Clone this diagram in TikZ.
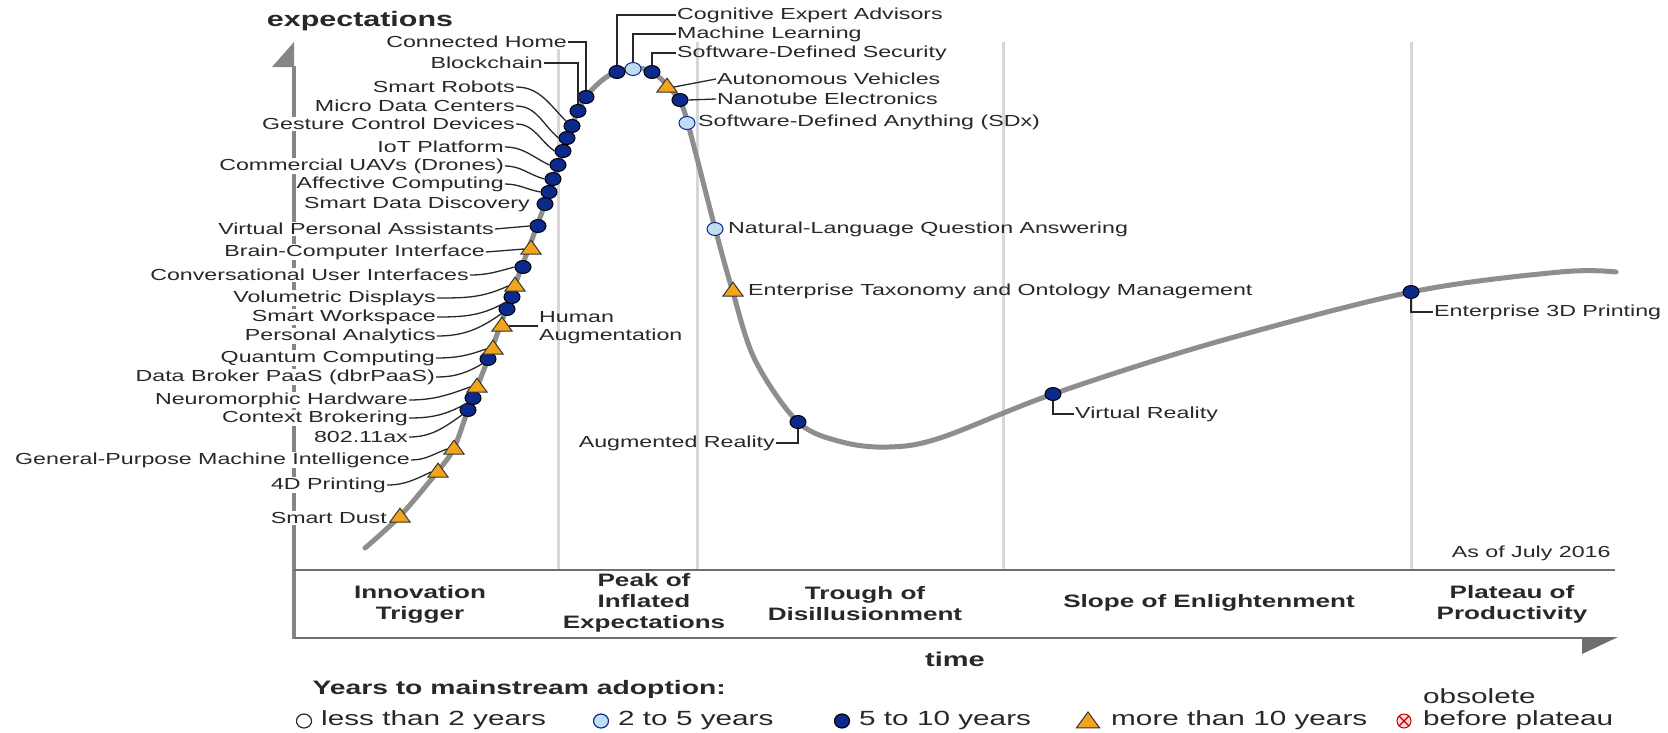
\documentclass[tikz,border=0pt]{standalone}
\usepackage{fontspec}
\setmainfont{Liberation Sans}[FakeStretch=1.45]
\usepackage{tikz}
\usetikzlibrary{shapes.geometric}

\definecolor{ink}{HTML}{282828}
\definecolor{dotblue}{HTML}{0B2A8C}
\definecolor{lightdot}{HTML}{BFDDF3}
\definecolor{tri}{HTML}{F2A51A}
\definecolor{curvegray}{HTML}{8E8E8E}
\definecolor{axisgray}{HTML}{858585}
\definecolor{boxgray}{HTML}{6E6E6E}
\definecolor{phasegray}{HTML}{D7D7D7}

\begin{document}
\begin{tikzpicture}[x = 1pt, y = -1pt,
        every node/.style = {text = ink},
        left label/.style = {anchor = east, fill = white, inner sep = 1pt, font = \fontsize{16}{18}\selectfont},
        right label/.style = {anchor = west, inner sep = 1pt, font = \fontsize{16}{18}\selectfont},
        phase label/.style = {align = center, font = \fontsize{18}{21}\selectfont\bfseries},
        key text/.style = {anchor = west, inner sep = 1pt, font = \fontsize{20.5}{23}\selectfont},
        leader/.style = {draw = ink, line width = 1.3pt},
        fiveten/.style = {ellipse, draw = black, line width = 1pt, fill = dotblue, minimum width = 16, minimum height = 13, inner sep = 0pt},
        twofive/.style = {fiveten, fill = lightdot, draw = dotblue},
        overten/.style = {isosceles triangle, isosceles triangle apex angle = 72, shape border rotate = 90, draw = black!80, line width = 1pt, fill = tri, minimum size = 14, inner sep = 0pt},
        key/.style = {ellipse, draw = ink, line width = 1.2pt, minimum width = 15, minimum height = 14, inner sep = 0pt}]
        \useasboundingbox (0,0) rectangle (1668,732);

        \foreach \x in {558, 697, 1003, 1411}
            \draw [phasegray, line width = 3pt] (\x,42) -- (\x,570);

        \draw [axisgray, line width = 3.5pt] (294,66) -- (294,639);
        \fill [axisgray] (294,42) -- (272,67) -- (294,67) -- cycle;
        \draw [boxgray, line width = 2.5pt] (294,570) -- (1615,570);
        \draw [boxgray, line width = 2.5pt] (294,638) -- (1590,638);
        \fill [boxgray] (1582,637) -- (1618,637) -- (1582,654) -- cycle;

        \node [font = \fontsize{21}{24}\selectfont\bfseries] (ax-exp) at (360,21) {expectations};
        \node [font = \fontsize{20}{24}\selectfont\bfseries] (ax-time) at (955,659) {time};
        \node [anchor = east, font = \fontsize{16}{18}\selectfont] (asof) at (1614,553) {As of July 2016};

        \node [left label] (l-home) at (568,42) {Connected Home};
        \node [left label] (l-block) at (544,63) {Blockchain};
        \node [left label] (l-robots) at (516,87) {Smart Robots};
        \node [left label] (l-microdc) at (516,106) {Micro Data Centers};
        \node [left label] (l-gesture) at (516,124) {Gesture Control Devices};
        \node [left label] (l-iot) at (505,147) {IoT Platform};
        \node [left label] (l-uav) at (505,166) {Commercial UAVs (Drones)};
        \node [left label] (l-affect) at (505,184) {Affective Computing};
        \node [left label] (l-sdd) at (531,204) {Smart Data Discovery};
        \node [left label] (l-vpa) at (495,229) {Virtual Personal Assistants};
        \node [left label] (l-bci) at (486,252) {Brain-Computer Interface};
        \node [left label] (l-conv) at (470,275) {Conversational User Interfaces};
        \node [left label] (l-volu) at (437,298) {Volumetric Displays};
        \node [left label] (l-work) at (437,317) {Smart Workspace};
        \node [left label] (l-pers) at (437,336) {Personal Analytics};
        \node [left label] (l-quant) at (436,358) {Quantum Computing};
        \node [left label] (l-dbr) at (436,377) {Data Broker PaaS (dbrPaaS)};
        \node [left label] (l-neuro) at (409,400) {Neuromorphic Hardware};
        \node [left label] (l-context) at (409,418) {Context Brokering};
        \node [left label] (l-wifi) at (409,437) {802.11ax};
        \node [left label] (l-gpmi) at (411,460) {General-Purpose Machine Intelligence};
        \node [left label] (l-print) at (387,485) {4D Printing};
        \node [left label] (l-dust) at (388,518) {Smart Dust};

        \node [right label] (l-cea) at (676,15) {Cognitive Expert Advisors};
        \node [right label] (l-ml) at (676,34) {Machine Learning};
        \node [right label] (l-sds) at (676,53) {Software-Defined Security};
        \node [right label] (l-auto) at (716,79) {Autonomous Vehicles};
        \node [right label] (l-nano) at (716,99) {Nanotube Electronics};
        \node [right label] (l-sdx) at (697,122) {Software-Defined Anything (SDx)};
        \node [right label] (l-nlqa) at (727,229) {Natural-Language Question Answering};
        \node [right label] (l-etom) at (747,291) {Enterprise Taxonomy and Ontology Management};
        \node [right label, align = left] (l-human) at (538,328) {Human\\Augmentation};
        \node [left label, fill = none] (l-ar) at (776,443) {Augmented Reality};
        \node [right label] (l-vr) at (1074,414) {Virtual Reality};
        \node [right label] (l-e3d) at (1433,312) {Enterprise 3D Printing};

        \draw [curvegray, line width = 5pt, line cap = round] plot [smooth, tension = 0.55] coordinates {(365,548) (400,516) (438,471) (454,448) (468,410) (488,359) (515,285) (545,204) (572,126) (586,97) (608,76) (633,68) (652,72) (668,86) (680,102) (688,124) (715,228) (732,289) (755,360) (798,422) (842,442) (889,447) (940,438) (1053,394) (1213,343) (1411,292) (1560,272) (1616,272)};

        \node [overten] (m-dust) at (400,517) {};
        \node [overten] (m-print) at (438,472) {};
        \node [overten] (m-gpmi) at (454,449) {};
        \node [fiveten] (m-wifi) at (468,410) {};
        \node [fiveten] (m-context) at (473,398) {};
        \node [overten] (m-neuro) at (477,387) {};
        \node [fiveten] (m-dbr) at (488,359) {};
        \node [overten] (m-quant) at (493,349) {};
        \node [overten] (m-human) at (502,326) {};
        \node [fiveten] (m-pers) at (507,309) {};
        \node [fiveten] (m-work) at (512,297) {};
        \node [overten] (m-volu) at (515,286) {};
        \node [fiveten] (m-conv) at (523,267) {};
        \node [overten] (m-bci) at (531,249) {};
        \node [fiveten] (m-vpa) at (538,226) {};
        \node [fiveten] (m-sdd) at (545,204) {};
        \node [fiveten] (m-affect) at (549,192) {};
        \node [fiveten] (m-uav) at (553,179) {};
        \node [fiveten] (m-iot) at (558,165) {};
        \node [fiveten] (m-gesture) at (563,151) {};
        \node [fiveten] (m-microdc) at (567,138) {};
        \node [fiveten] (m-robots) at (572,126) {};
        \node [fiveten] (m-block) at (578,111) {};
        \node [fiveten] (m-home) at (586,97) {};
        \node [fiveten] (m-cea) at (617,72) {};
        \node [twofive] (m-ml) at (633,69) {};
        \node [fiveten] (m-sds) at (652,72) {};
        \node [overten] (m-auto) at (667,87) {};
        \node [fiveten] (m-nano) at (680,100) {};
        \node [twofive] (m-sdx) at (687,123) {};
        \node [twofive] (m-nlqa) at (715,229) {};
        \node [overten] (m-etom) at (733,291) {};
        \node [fiveten] (m-ar) at (798,422) {};
        \node [fiveten] (m-vr) at (1053,394) {};
        \node [fiveten] (m-e3d) at (1411,292) {};

        \draw [leader] (l-home.east) -| (m-home.north);
        \draw [leader] (l-block.east) -| (m-block.north);
        \draw [leader] (l-robots.east) to [out = 0, in = 135] (m-robots.north west);
        \draw [leader] (l-microdc.east) to [out = 0, in = 140] (m-microdc.west);
        \draw [leader] (l-gesture.east) to [out = 0, in = 145] (m-gesture.west);
        \draw [leader] (l-iot.east) to [out = 0, in = 155] (m-iot.west);
        \draw [leader] (l-uav.east) to [out = 0, in = 165] (m-uav.west);
        \draw [leader] (l-affect.east) to [out = 0, in = 170] (m-affect.west);
        \draw [leader] (l-vpa.east) -- (m-vpa.west);
        \draw [leader] (l-bci.east) -- (m-bci.west);
        \draw [leader] (l-conv.east) to [out = 0, in = 195] (m-conv.west);
        \draw [leader] (l-volu.east) to [out = 0, in = 205] (m-volu.west);
        \draw [leader] (l-work.east) to [out = 0, in = 210] (m-work.south west);
        \draw [leader] (l-pers.east) to [out = 0, in = 215] (m-pers.south west);
        \draw [leader] (l-quant.east) to [out = 0, in = 200] (m-quant.west);
        \draw [leader] (l-dbr.east) to [out = 0, in = 210] (m-dbr.south west);
        \draw [leader] (l-neuro.east) to [out = 0, in = 200] (m-neuro.west);
        \draw [leader] (l-context.east) to [out = 0, in = 210] (m-context.south west);
        \draw [leader] (l-wifi.east) to [out = 0, in = 215] (m-wifi.south west);
        \draw [leader] (l-gpmi.east) to [out = 0, in = 200] (m-gpmi.west);
        \draw [leader] (l-print.east) to [out = 0, in = 205] (m-print.west);
        \draw [leader] (l-cea.west) -| (m-cea.north);
        \draw [leader] (l-ml.west) -| (m-ml.north);
        \draw [leader] (l-sds.west) -| (m-sds.north);
        \draw [leader] (l-auto.west) -- (m-auto.east);
        \draw [leader] (l-nano.west) -- (m-nano.east);
        \draw [leader] (m-human.east) -- (m-human -| l-human.west);
        \draw [leader] (l-ar.east) -| (m-ar.south);
        \draw [leader] (l-vr.west) -| (m-vr.south);
        \draw [leader] (l-e3d.west) -| (m-e3d.south);

        \node [phase label] (ph-trigger) at (420,604) {Innovation\\Trigger};
        \node [phase label] (ph-peak) at (644,603) {Peak of\\Inflated\\Expectations};
        \node [phase label] (ph-trough) at (865,604) {Trough of\\Disillusionment};
        \node [phase label] (ph-slope) at (1209,603) {Slope of Enlightenment};
        \node [phase label] (ph-plateau) at (1512,604) {Plateau of\\Productivity};

        \node [anchor = west, font = \fontsize{19.5}{22}\selectfont\bfseries] (k-head) at (309,689) {Years to mainstream adoption:};
        \node [key, fill = white] (k-under) at (304,721) {};
        \node [key text] (t-under) at (320,720) {less than 2 years};
        \node [key, fill = lightdot, draw = dotblue] (k-two) at (601,721) {};
        \node [key text] (t-two) at (617,720) {2 to 5 years};
        \node [key, fill = dotblue, draw = black] (k-five) at (842,721) {};
        \node [key text] (t-five) at (858,720) {5 to 10 years};
        \node [overten, minimum size = 16] (k-ten) at (1088,722) {};
        \node [key text] (t-ten) at (1110,720) {more than 10 years};
        \node [circle, draw = red!75!black, fill = red!15, line width = 1pt, minimum size = 14, inner sep = 0pt,
            path picture = {\draw [red!75!black, line width = 1.2pt] (path picture bounding box.south west) -- (path picture bounding box.north east) (path picture bounding box.north west) -- (path picture bounding box.south east);}] (k-obs) at (1404,721) {};
        \node [key text] (t-obs) at (1422,696) {obsolete};
        \node [key text] (t-plateau) at (1422,720) {before plateau};
    \end{tikzpicture}
\end{document}
